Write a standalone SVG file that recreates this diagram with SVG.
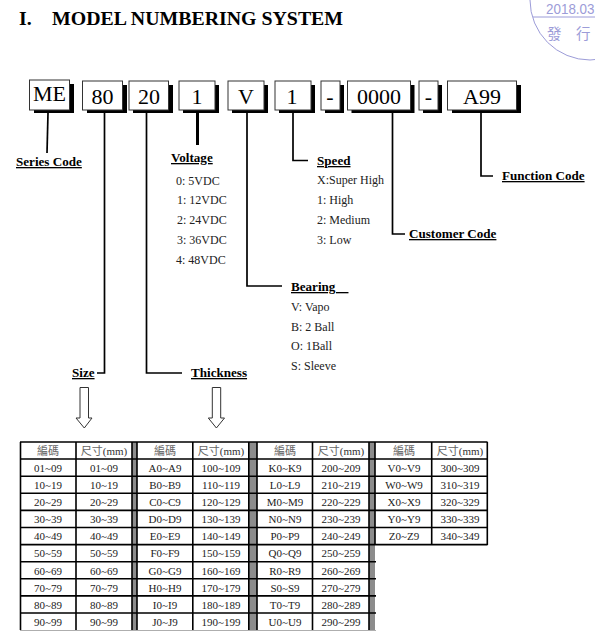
<svg xmlns="http://www.w3.org/2000/svg" width="595" height="639" viewBox="0 0 595 639">
<style>
text{font-family:"Liberation Serif","Noto Sans CJK TC",serif;fill:#111}
.title{font-size:19.85px;font-weight:bold;fill:#000}
.box{fill:#fff;stroke:#333;stroke-width:1}
.sh{fill:#000}
.code{font-size:22px;text-anchor:middle;fill:#000}
.lab{font-size:13.1px;font-weight:bold;text-decoration:underline;fill:#000}
.it{font-size:12px;fill:#222}
.c{fill:none;stroke:#000;stroke-width:1.7}
.arr{fill:#fff;stroke:#333;stroke-width:1}
.gl{stroke:#000;stroke-width:1.6;fill:none}
.gray{fill:#8c8c8c}
.t{font-size:11px;text-anchor:middle;fill:#222}
.h{font-size:11px;text-anchor:middle;fill:#666}
.h tspan{fill:#333}
.st{fill:none;stroke:#9c9cd8;stroke-width:1}
.stt{fill:#9c9cd8;font-size:14px}
</style>
<g id="stamp">
<circle class="st" cx="590" cy="0" r="60"/>
<line class="st" x1="533" y1="17" x2="595" y2="17"/>
<text class="stt" x="546" y="13.500" textLength="48.500" lengthAdjust="spacingAndGlyphs" style="font-family:'Liberation Sans',sans-serif">2018.03</text>
<text class="stt" x="547" y="39" style="font-size:14.5px;font-family:'Noto Sans CJK TC',sans-serif">發</text>
<text class="stt" x="576" y="39" style="font-size:14.5px;font-family:'Noto Sans CJK TC',sans-serif">行</text>
</g>
<text class="title" x="19" y="25">I.</text>
<text class="title" x="52" y="25">MODEL NUMBERING SYSTEM</text>
<g id="connectors">
<path class="c" d="M48 113L47 153"/>
<path class="c" d="M104.500 112V373H97"/>
<path class="c" d="M146.500 112V373H182"/>
<path class="c" style="stroke-width:3" d="M197.500 112V145"/>
<path class="c" d="M247 112V286H282"/>
<path class="c" d="M293 112V160.500H308"/>
<path class="c" d="M392.500 112V234H405"/>
<path class="c" d="M481 112V176H493"/>
</g>
<g id="node-me"><rect class="sh" x="34" y="84" width="40" height="29"/><rect class="box" x="29.500" y="80" width="40" height="30"/><text class="code" x="49.500" y="101">ME</text></g>
<g id="node-80"><rect class="sh" x="87" y="85" width="40" height="28"/><rect class="box" x="82.500" y="81" width="40" height="29"/><text class="code" x="102.500" y="104">80</text></g>
<g id="node-20"><rect class="sh" x="133" y="85" width="40" height="28"/><rect class="box" x="129" y="81" width="39.500" height="29"/><text class="code" x="149" y="104">20</text></g>
<g id="node-1a"><rect class="sh" x="183" y="85" width="36" height="28"/><rect class="box" x="179" y="81" width="36" height="29"/><text class="code" x="197" y="104">1</text></g>
<g id="node-v"><rect class="sh" x="232" y="85" width="36" height="28"/><rect class="box" x="228" y="81" width="36" height="29"/><text class="code" x="246" y="104">V</text></g>
<g id="node-1b"><rect class="sh" x="279" y="85" width="36" height="28"/><rect class="box" x="275" y="81" width="36" height="29"/><text class="code" x="292" y="104">1</text></g>
<g id="node-d1"><rect class="sh" x="325" y="85" width="19" height="28"/><rect class="box" x="321" y="81" width="19" height="29"/><text class="code" x="330" y="104">-</text></g>
<g id="node-0000"><rect class="sh" x="351.500" y="85" width="63" height="28"/><rect class="box" x="347.500" y="81" width="63" height="29"/><text class="code" x="379" y="104">0000</text></g>
<g id="node-d2"><rect class="sh" x="423" y="85" width="19" height="28"/><rect class="box" x="419" y="81" width="19" height="29"/><text class="code" x="428.500" y="104">-</text></g>
<g id="node-a99"><rect class="sh" x="452" y="85" width="69" height="28"/><rect class="box" x="447.500" y="81" width="69" height="29"/><text class="code" x="482" y="104">A99</text></g>
<g id="series"><text class="lab" x="16" y="166">Series Code</text></g>
<g id="voltage"><text class="lab" x="171" y="162">Voltage</text>
<text class="it" x="176" y="185">0: 5VDC</text><text class="it" x="177" y="204">1: 12VDC</text><text class="it" x="177" y="224">2: 24VDC</text><text class="it" x="177" y="244">3: 36VDC</text><text class="it" x="176" y="264">4: 48VDC</text></g>
<g id="speed"><text class="lab" x="317" y="165">Speed</text>
<text class="it" x="317" y="184">X:Super High</text><text class="it" x="317" y="204">1: High</text><text class="it" x="317" y="224">2: Medium</text><text class="it" x="317" y="244">3: Low</text></g>
<g id="bearing"><text class="lab" x="291" y="291">Bearing&#160;&#160;&#160;&#160;</text>
<text class="it" x="291" y="311">V: Vapo</text><text class="it" x="291" y="331">B: 2 Ball</text><text class="it" x="291" y="350">O: 1Ball</text><text class="it" x="291" y="370">S: Sleeve</text></g>
<g id="function"><text class="lab" x="502" y="180">Function Code</text></g>
<g id="customer"><text class="lab" x="409" y="238">Customer Code</text></g>
<g id="size"><text class="lab" x="72" y="377">Size</text>
<path class="arr" d="M80 387.500H88.500V418H92L84.300 428L76 418H80Z"/></g>
<g id="thickness"><text class="lab" x="191" y="377">Thickness</text>
<path class="arr" d="M212.300 387.500H220.700V418H224.500L216.400 428L208.300 418H212.300Z"/></g>
<g id="table">
<rect class="gray" x="132" y="442" width="5" height="188"/>
<rect class="gray" x="249" y="442" width="8" height="188"/>
<rect class="gray" x="369" y="442" width="6" height="188"/>
<path class="gl" d="M20 442H487.500M20 459H487.500M20 476.200H487.500M20 493.300H487.500M20 510.400H487.500M20 527.500H487.500M20 544.600H487.500"/>
<path class="gl" d="M20 561.700H376M20 578.800H376M20 595.900H376M20 613H376"/>
<path d="M20 630.500H376" style="stroke:#999;stroke-width:.8"/>
<path class="gl" d="M20.500 442V630M76 442V630M132 442V630M137 442V630M192.800 442V630M248.800 442V630M257 442V630M312.500 442V630M369 442V630"/>
<path class="gl" d="M375 442V545M431.700 442V545M487.300 442V545"/>
<g id="headers">
<text class="h" x="48" y="455">編碼</text><text class="h" x="104" y="455">尺寸<tspan>(mm)</tspan></text>
<text class="h" x="165" y="455">編碼</text><text class="h" x="221" y="455">尺寸<tspan>(mm)</tspan></text>
<text class="h" x="285" y="455">編碼</text><text class="h" x="341" y="455">尺寸<tspan>(mm)</tspan></text>
<text class="h" x="404" y="455">編碼</text><text class="h" x="460" y="455">尺寸<tspan>(mm)</tspan></text>
</g>
<g id="col1">
<text class="t" x="48" y="472">01~09</text><text class="t" x="104" y="472">01~09</text>
<text class="t" x="48" y="489">10~19</text><text class="t" x="104" y="489">10~19</text>
<text class="t" x="48" y="506">20~29</text><text class="t" x="104" y="506">20~29</text>
<text class="t" x="48" y="523">30~39</text><text class="t" x="104" y="523">30~39</text>
<text class="t" x="48" y="540">40~49</text><text class="t" x="104" y="540">40~49</text>
<text class="t" x="48" y="557">50~59</text><text class="t" x="104" y="557">50~59</text>
<text class="t" x="48" y="575">60~69</text><text class="t" x="104" y="575">60~69</text>
<text class="t" x="48" y="592">70~79</text><text class="t" x="104" y="592">70~79</text>
<text class="t" x="48" y="609">80~89</text><text class="t" x="104" y="609">80~89</text>
<text class="t" x="48" y="626">90~99</text><text class="t" x="104" y="626">90~99</text>
</g>
<g id="col2">
<text class="t" x="165" y="472">A0~A9</text><text class="t" x="221" y="472">100~109</text>
<text class="t" x="165" y="489">B0~B9</text><text class="t" x="221" y="489">110~119</text>
<text class="t" x="165" y="506">C0~C9</text><text class="t" x="221" y="506">120~129</text>
<text class="t" x="165" y="523">D0~D9</text><text class="t" x="221" y="523">130~139</text>
<text class="t" x="165" y="540">E0~E9</text><text class="t" x="221" y="540">140~149</text>
<text class="t" x="165" y="557">F0~F9</text><text class="t" x="221" y="557">150~159</text>
<text class="t" x="165" y="575">G0~G9</text><text class="t" x="221" y="575">160~169</text>
<text class="t" x="165" y="592">H0~H9</text><text class="t" x="221" y="592">170~179</text>
<text class="t" x="165" y="609">I0~I9</text><text class="t" x="221" y="609">180~189</text>
<text class="t" x="165" y="626">J0~J9</text><text class="t" x="221" y="626">190~199</text>
</g>
<g id="col3">
<text class="t" x="285" y="472">K0~K9</text><text class="t" x="341" y="472">200~209</text>
<text class="t" x="285" y="489">L0~L9</text><text class="t" x="341" y="489">210~219</text>
<text class="t" x="285" y="506">M0~M9</text><text class="t" x="341" y="506">220~229</text>
<text class="t" x="285" y="523">N0~N9</text><text class="t" x="341" y="523">230~239</text>
<text class="t" x="285" y="540">P0~P9</text><text class="t" x="341" y="540">240~249</text>
<text class="t" x="285" y="557">Q0~Q9</text><text class="t" x="341" y="557">250~259</text>
<text class="t" x="285" y="575">R0~R9</text><text class="t" x="341" y="575">260~269</text>
<text class="t" x="285" y="592">S0~S9</text><text class="t" x="341" y="592">270~279</text>
<text class="t" x="285" y="609">T0~T9</text><text class="t" x="341" y="609">280~289</text>
<text class="t" x="285" y="626">U0~U9</text><text class="t" x="341" y="626">290~299</text>
</g>
<g id="col4">
<text class="t" x="404" y="472">V0~V9</text><text class="t" x="460" y="472">300~309</text>
<text class="t" x="404" y="489">W0~W9</text><text class="t" x="460" y="489">310~319</text>
<text class="t" x="404" y="506">X0~X9</text><text class="t" x="460" y="506">320~329</text>
<text class="t" x="404" y="523">Y0~Y9</text><text class="t" x="460" y="523">330~339</text>
<text class="t" x="404" y="540">Z0~Z9</text><text class="t" x="460" y="540">340~349</text>
</g>
</g>
</svg>
